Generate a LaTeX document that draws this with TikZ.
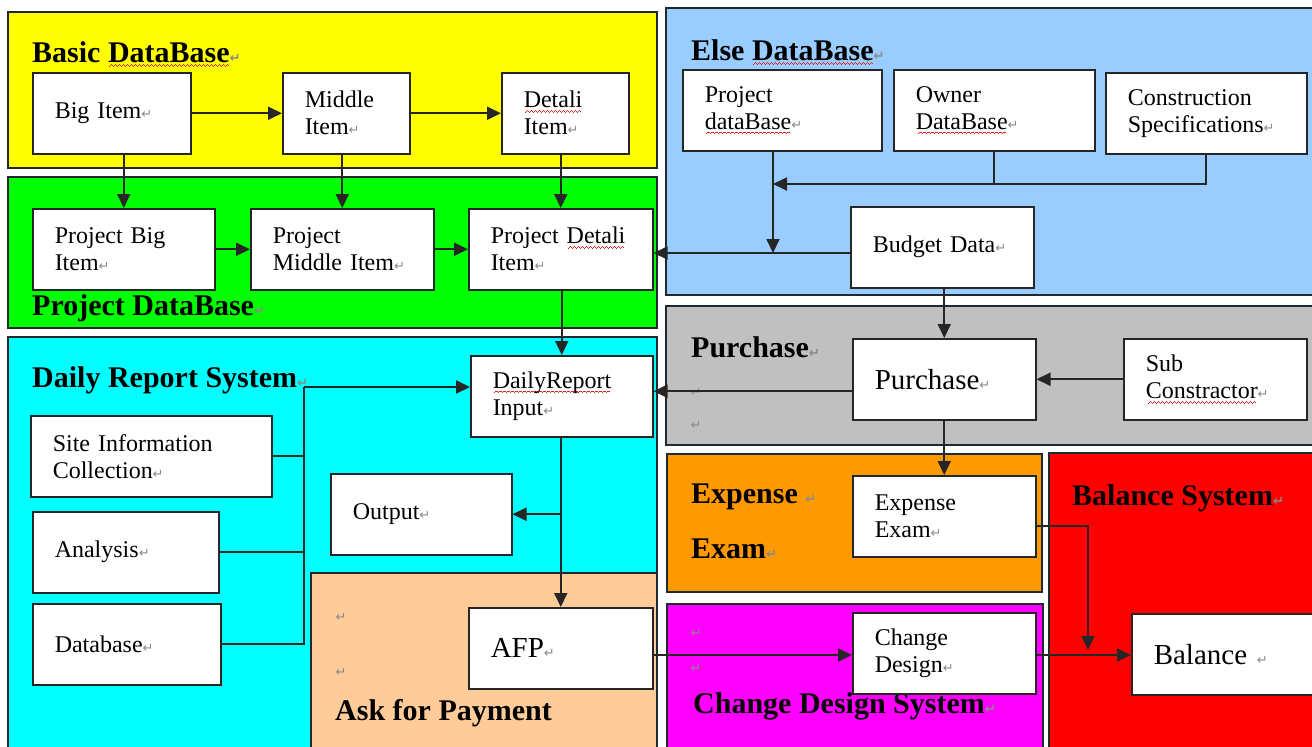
\documentclass[tikz,border=0pt]{standalone}
\usepackage{fontspec}
\setmainfont{Liberation Serif}
\newfontfamily\retfont{DejaVu Sans}
\usetikzlibrary{arrows.meta}

\definecolor{basicyellow}{HTML}{FFFF00}
\definecolor{projgreen}{HTML}{00FF00}
\definecolor{elseblue}{HTML}{99CCFF}
\definecolor{dailycyan}{HTML}{00FFFF}
\definecolor{purchgray}{HTML}{C0C0C0}
\definecolor{askpeach}{HTML}{FFCC99}
\definecolor{exporange}{HTML}{FF9900}
\definecolor{changepink}{HTML}{FF00FF}
\definecolor{balred}{HTML}{FF0000}
\definecolor{retgray}{HTML}{8A8A8A}
\definecolor{spellred}{HTML}{E02020}
\definecolor{regionline}{HTML}{202830}

\newcommand\ret{{\retfont\fontsize{13}{13}\selectfont\color{retgray}↵}}
\newcommand\waveunit{\hbox{\rule[-1pt]{1pt}{0.8pt}\rule[-0.2pt]{1pt}{0.8pt}%
    \rule[0.6pt]{1pt}{0.8pt}\rule[-0.2pt]{1pt}{0.8pt}}}
\newcommand\spell[1]{\setbox0\hbox{#1}\leavevmode
    \rlap{\raisebox{-3.5pt}{{\color{spellred}\hbox to\wd0{\cleaders\waveunit\hfill}}}}\box0}

\begin{document}
\begin{tikzpicture}[x = 1pt, y = -1pt,
    region/.style = {draw = regionline, line width = 1.5pt},
    itembox/.style = {draw = black!85, line width = 1.5pt, fill = white, anchor = north west,
        minimum height = 81pt, inner xsep = 22pt, text width = #1,
        font = \fontsize{24}{27}\selectfont},
    bigbox/.style = {itembox = #1, font = \fontsize{29}{32}\selectfont},
    heading/.style = {anchor = base west, inner sep = 0pt, font = \bfseries\fontsize{30}{34}\selectfont},
    retmark/.style = {inner sep = 0pt},
    link/.style = {draw = black!85, line width = 1.8pt, -{Triangle[length = 14pt, width = 13pt]}},
    wire/.style = {draw = black!85, line width = 1.8pt}]

            \useasboundingbox (0,0) rectangle (1312,747);
            \clip (0,0) rectangle (1312,747);

            \draw [region, fill = basicyellow] (8,12) rectangle (657,168);
            \draw [region, fill = projgreen] (8,177) rectangle (657,328);
            \draw [region, fill = elseblue] (666,8) rectangle (1330,295);
            \draw [region, fill = dailycyan] (8,337) rectangle (657,760);
            \draw [region, fill = purchgray] (666,306) rectangle (1330,445);
            \draw [region, fill = askpeach] (311,573) rectangle (657,760);
            \draw [region, fill = exporange] (667,454) rectangle (1042,592);
            \draw [region, fill = changepink] (667,604) rectangle (1043,760);
            \draw [region, fill = balred] (1049,453) rectangle (1330,760);

            \node [heading] (basichead) at (32,62) {Basic \spell{DataBase}\ret};
            \node [heading] (projhead) at (32,315) {Project DataBase\ret};
            \node [heading] (elsehead) at (691,60) {Else \spell{DataBase}\ret};
            \node [heading] (dailyhead) at (32,387) {Daily Report System\ret};
            \node [heading] (purchhead) at (691,357) {Purchase\ret};
            \node [heading] (expensehead) at (691,503) {Expense \ret};
            \node [heading] (examhead) at (691,558) {Exam\ret};
            \node [heading] (balancehead) at (1072,505) {Balance System\ret};
            \node [heading] (changehead) at (693,713) {Change Design System\ret};
            \node [heading] (askhead) at (335,720) {Ask for Payment};

            \node [itembox = 114pt] (bigitem) at (32,72) {Big Item\ret};
            \node [itembox = 83pt] (middleitem) at (282,72) {Middle\\Item\ret};
            \node [itembox = 83pt] (detaliitem) at (501,72) {\spell{Detali}\\Item\ret};

            \node [itembox = 138pt] (pbigitem) at (32,208) {Project Big\\Item\ret};
            \node [itembox = 139pt] (pmiddleitem) at (250,208) {Project\\Middle Item\ret};
            \node [itembox = 140pt] (pdetaliitem) at (468,208) {Project \spell{Detali}\\Item\ret};

            \node [itembox = 155pt] (projectdb) at (682,69) {Project\\\spell{dataBase}\ret};
            \node [itembox = 157pt] (ownerdb) at (893,69) {Owner\\\spell{DataBase}\ret};
            \node [itembox = 157pt] (conspec) at (1105,72) {Construction\\Specifications\ret};
            \node [itembox = 139pt] (budget) at (850,206) {Budget Data\ret};

            \node [itembox = 138pt] (dailyinput) at (470,355) {\spell{DailyReport}\\Input\ret};
            \node [itembox = 197pt] (siteinfo) at (30,415) {Site Information\\Collection\ret};
            \node [itembox = 142pt] (analysis) at (32,511) {Analysis\ret};
            \node [itembox = 144pt] (database) at (32,603) {Database\ret};
            \node [itembox = 137pt] (output) at (330,473) {Output\ret};
            \node [bigbox = 140pt] (afp) at (468,607) {AFP\ret};

            \node [bigbox = 139pt] (purchase) at (852,338) {Purchase\ret};
            \node [itembox = 139pt] (subcon) at (1123,338) {Sub\\\spell{Constractor} \ret};
            \node [itembox = 139pt] (expense) at (852,475) {Expense\\Exam\ret};
            \node [itembox = 139pt] (change) at (852,612) {Change\\Design\ret};
            \node [bigbox = 160pt] (balance) at (1131,613) {Balance \ret};

            \node [retmark] (purchret) at (696,392) {\ret};
            \node [retmark] (purchretb) at (696,425) {\ret};
            \node [retmark] (askret) at (341,617) {\ret};
            \node [retmark] (askretb) at (341,672) {\ret};
            \node [retmark] (changeret) at (696,633) {\ret};
            \node [retmark] (changeretb) at (696,668) {\ret};

            \coordinate (specjoin) at (773,184);
            \coordinate (budgetjoin) at (773,253);
            \coordinate (collect) at (304,387);
            \coordinate (balancejoin) at (1088,655);

            \draw [link] (bigitem) -- (middleitem);
            \draw [link] (middleitem) -- (detaliitem);

            \draw [link] (pbigitem.north |- bigitem.south) -- (pbigitem.north);
            \draw [link] (pmiddleitem.north |- middleitem.south) -- (pmiddleitem.north);
            \draw [link] (pdetaliitem.north |- detaliitem.south) -- (pdetaliitem.north);

            \draw [link] (pbigitem) -- (pmiddleitem);
            \draw [link] (pmiddleitem) -- (pdetaliitem);
            \draw [link] (dailyinput.north |- pdetaliitem.south) -- (dailyinput.north);

            \draw [wire] (ownerdb.south) -- (ownerdb.south |- specjoin);
            \draw [link] (conspec.south) |- (specjoin);
            \draw [wire] (projectdb.south -| specjoin) -- (specjoin);
            \draw [link] (specjoin) -- (budgetjoin);
            \draw [link] (budget.west |- budgetjoin) -- (pdetaliitem.east |- budgetjoin);

            \draw [link] (purchase.north |- budget.south) -- (purchase.north);
            \draw [link] (subcon) -- (purchase);
            \draw [link] ([yshift = -12pt]purchase.west) -- ([yshift = -12pt]purchase.west -| dailyinput.east);
            \draw [link] (purchase) -- (expense);

            \draw [link, shorten > = 5pt] ([yshift = -10pt]expense.east) -| (balancejoin);
            \draw [link] (afp.east |- balancejoin) -- (change.west |- balancejoin);
            \draw [link] (change.east |- balancejoin) -- (balance.west |- balancejoin);

            \draw [link] (collect) -- (dailyinput.west |- collect);
            \draw [wire] (collect) -- (collect |- database.east) -- (database.east);
            \draw [wire] (siteinfo.east) -- (siteinfo.east -| collect);
            \draw [wire] (analysis.east) -- (analysis.east -| collect);

            \draw [link] (afp.north |- dailyinput.south) -- (afp.north);
            \draw [link] (afp.north |- output.east) -- (output.east);
\end{tikzpicture}
\end{document}
